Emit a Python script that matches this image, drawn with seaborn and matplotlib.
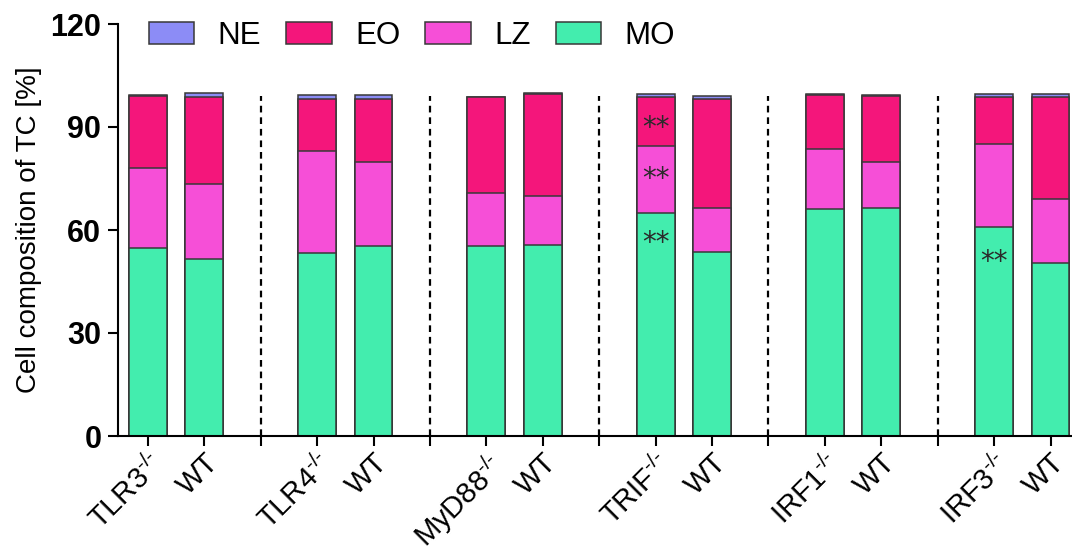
import numpy as np
import pandas as pd
import matplotlib
matplotlib.use("Agg")
import matplotlib.pyplot as plt
from matplotlib.patches import Patch
import seaborn as sns

# ---- data ----
labels = [r"TLR3$^{\text{-/-}}$", "WT", r"TLR4$^{\text{-/-}}$", "WT", r"MyD88$^{\text{-/-}}$", "WT",
          r"TRIF$^{\text{-/-}}$", "WT", r"IRF1$^{\text{-/-}}$", "WT", r"IRF3$^{\text{-/-}}$", "WT"]
MO = [54.7, 51.6, 53.4, 55.4, 55.3, 55.6, 64.9, 53.6, 66.0, 66.3, 61.0, 50.3]
LZ = [23.5, 21.7, 29.6, 24.4, 15.6, 14.3, 19.7, 12.9, 17.6, 13.5, 24.0, 18.8]
EO = [20.9, 25.5, 15.2, 18.3, 27.7, 29.7, 14.2, 31.8, 15.7, 19.3, 13.8, 29.5]
NE = [0.3, 1.0, 1.1, 1.2, 0.2, 0.2, 0.8, 0.8, 0.3, 0.3, 0.8, 0.9]
layers = ["NE", "EO", "LZ", "MO"]
colors = {"NE": "#8C8CF6", "EO": "#F4167B", "LZ": "#F64FD7", "MO": "#43EDAE"}
star_bar = [6, 6, 6, 10]          # index of bar carrying "**"
star_y = [89.7, 74.8, 56.2, 50.7]
yticks = [0, 30, 60, 90, 120]

# ---- positions: pairs separated by an empty slot ----
pos = np.array([(i // 2) * 3 + (i % 2) for i in range(len(labels))], dtype=float)
sep = np.arange(2, pos.max(), 3)

df = pd.DataFrame({"pos": pos, "MO": MO, "LZ": LZ, "EO": EO, "NE": NE})
df["c_MO"] = df["MO"]
df["c_LZ"] = df["c_MO"] + df["LZ"]
df["c_EO"] = df["c_LZ"] + df["EO"]
df["c_NE"] = df["c_EO"] + df["NE"]

sns.set_style("ticks")
plt.rcParams["font.family"] = ["Liberation Sans", "DejaVu Sans"]
plt.rcParams["mathtext.fontset"] = "custom"
plt.rcParams["mathtext.rm"] = "Liberation Sans"
plt.rcParams["mathtext.it"] = "Liberation Sans"
plt.rcParams["mathtext.bf"] = "Liberation Sans:bold"
for k in ["text.color", "axes.labelcolor", "xtick.color", "ytick.color"]:
    plt.rcParams[k] = "black"

fig = plt.figure(figsize=(10.72, 5.53), dpi=100)
ax = fig.add_axes([118 / 1072, 117 / 553, 1 - 118 / 1072, (436 - 24) / 553])

edge = "#383838"
for lay in layers:
    sns.barplot(data=df, x="pos", y="c_" + lay, native_scale=True, width=0.67,
                color=colors[lay], saturation=1, edgecolor=edge, linewidth=1.1,
                errorbar=None, ax=ax)

ax.vlines(sep, 0, 99, colors="black", linestyles=(0, (3, 2.2)), linewidth=1.6)

for b, y in zip(star_bar, star_y):
    ax.text(pos[b], y, "**", ha="center", va="center", fontsize=20,
            color="#2a2a2a", family="DejaVu Sans")

ax.set_xlim(-0.53, 16.38)
ax.set_ylim(0, 120)
ax.set_yticks(yticks)
ax.set_yticklabels([str(v) for v in yticks], fontsize=22, fontweight="bold")

all_ticks = np.sort(np.concatenate([pos, sep]))
ax.set_xticks(all_ticks)
tick_labels = []
for t in all_ticks:
    idx = np.where(pos == t)[0]
    tick_labels.append(labels[idx[0]] if len(idx) else "")
ax.set_xticklabels(tick_labels, rotation=45, ha="right", rotation_mode="anchor",
                   fontsize=21)
ax.set_xlabel("")
ax.set_ylabel("Cell composition of TC [%]", fontsize=20, labelpad=6)

for s in ["top", "right"]:
    ax.spines[s].set_visible(False)
for s in ["left", "bottom"]:
    ax.spines[s].set_linewidth(1.5)
    ax.spines[s].set_color("black")
ax.tick_params(axis="both", direction="out", length=7, width=1.5, color="black")
ax.tick_params(axis="x", pad=2)
ax.tick_params(axis="y", pad=5)

handles = [Patch(facecolor=colors[l], edgecolor=edge, linewidth=1.1, label=l) for l in layers]
fig.legend(handles=handles, loc="center left", bbox_to_anchor=(149 / 1072, 1 - 36 / 553),
           ncol=4, frameon=False, fontsize=22.5, handlelength=1.45, handleheight=0.7,
           handletextpad=0.75, columnspacing=0.8, borderpad=0, borderaxespad=0)

fig.savefig("out.png", dpi=100)
